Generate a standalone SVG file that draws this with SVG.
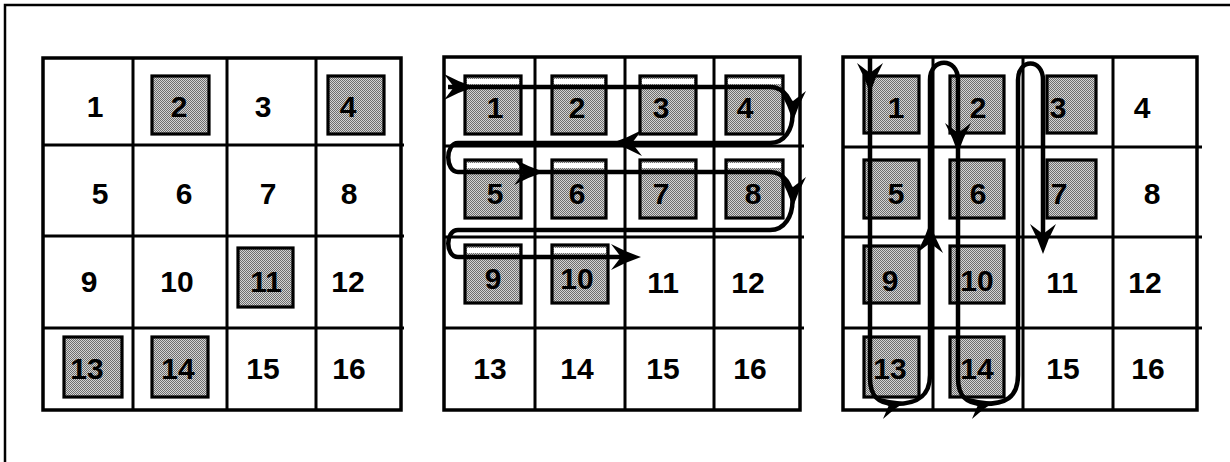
<svg xmlns="http://www.w3.org/2000/svg" xmlns:xlink="http://www.w3.org/1999/xlink" width="1230" height="462" viewBox="0 0 1230 462">
<style>
.frame{stroke:#000;stroke-width:2.5;fill:none}
.gl{stroke:#000;stroke-width:3;fill:none}
.go{stroke:#000;stroke-width:3.5;fill:none}
.box{fill:url(#dots);stroke:#000;stroke-width:3.2}
.halo{fill:#fff}
.n{font-family:"Liberation Sans",Arial,Helvetica,sans-serif;font-weight:bold;font-size:30px;text-anchor:middle;fill:#000}
.path{fill:none;stroke:#000;stroke-width:4.5;stroke-linejoin:round}
.ah{fill:#000}
</style>
<defs>
<pattern id="dots" width="2" height="2" patternUnits="userSpaceOnUse">
<rect width="2" height="2" fill="#d4d4d4"/>
<rect width="1" height="1" fill="#6e6e6e"/>
<rect x="1" y="1" width="1" height="1" fill="#6e6e6e"/>
</pattern>
<path id="arrowhead" d="M0,0 Q-15,-5 -30,-13 L-20,0 L-30,13 Q-15,5 0,0Z"/>
</defs>
<rect width="1230" height="462" fill="#fff"/>
<g id="frame">
<path class="frame" d="M5,462 V5 H1230"/>
</g>

<!-- Grid 1 -->
<g id="grid1-lines">
<rect class="go" x="43" y="58" width="358" height="352"/>
<path class="gl" d="M133,58V410 M227,58V410 M316,58V410 M43,145H404 M43,236H404 M43,328H404"/>
</g>
<g id="g1-c1"><text class="n" x="95" y="117">1</text></g>
<g id="g1-c2"><rect class="box" x="152" y="76" width="57" height="58"/><text class="n" x="179" y="117">2</text></g>
<g id="g1-c3"><text class="n" x="263" y="117">3</text></g>
<g id="g1-c4"><rect class="box" x="328" y="76" width="56" height="58"/><text class="n" x="348" y="117">4</text></g>
<g id="g1-c5"><text class="n" x="100" y="204">5</text></g>
<g id="g1-c6"><text class="n" x="184" y="204">6</text></g>
<g id="g1-c7"><text class="n" x="268" y="204">7</text></g>
<g id="g1-c8"><text class="n" x="349" y="204">8</text></g>
<g id="g1-c9"><text class="n" x="89" y="292">9</text></g>
<g id="g1-c10"><text class="n" x="177" y="292">10</text></g>
<g id="g1-c11"><rect class="box" x="238" y="248" width="55" height="59"/><text class="n" x="266" y="292">11</text></g>
<g id="g1-c12"><text class="n" x="348" y="292">12</text></g>
<g id="g1-c13"><rect class="box" x="64" y="337" width="58" height="60"/><text class="n" x="87" y="379">13</text></g>
<g id="g1-c14"><rect class="box" x="152" y="337" width="56" height="60"/><text class="n" x="178" y="379">14</text></g>
<g id="g1-c15"><text class="n" x="263" y="379">15</text></g>
<g id="g1-c16"><text class="n" x="349" y="379">16</text></g>

<!-- Grid 2 -->
<g id="grid2-lines">
<rect class="go" x="444" y="57" width="356" height="353"/>
<path class="gl" d="M535,57V410 M625,57V410 M714,57V410 M444,146H804 M444,237H804 M444,328H804"/>
</g>
<g id="g2-c1"><rect class="box" x="465" y="76" width="56" height="58"/><rect class="halo" x="467" y="79" width="52" height="5"/><text class="n" x="495" y="118">1</text></g>
<g id="g2-c2"><rect class="box" x="552" y="76" width="54" height="58"/><rect class="halo" x="554" y="79" width="50" height="5"/><text class="n" x="577" y="118">2</text></g>
<g id="g2-c3"><rect class="box" x="640" y="76" width="56" height="58"/><rect class="halo" x="642" y="79" width="52" height="5"/><text class="n" x="661" y="118">3</text></g>
<g id="g2-c4"><rect class="box" x="726" y="76" width="57" height="58"/><rect class="halo" x="728" y="79" width="53" height="5"/><text class="n" x="745" y="118">4</text></g>
<g id="g2-c5"><rect class="box" x="465" y="160" width="56" height="58"/><rect class="halo" x="467" y="163" width="52" height="5"/><text class="n" x="495" y="204">5</text></g>
<g id="g2-c6"><rect class="box" x="552" y="160" width="54" height="58"/><rect class="halo" x="554" y="163" width="50" height="5"/><text class="n" x="577" y="204">6</text></g>
<g id="g2-c7"><rect class="box" x="640" y="160" width="56" height="58"/><rect class="halo" x="642" y="163" width="52" height="5"/><text class="n" x="661" y="204">7</text></g>
<g id="g2-c8"><rect class="box" x="726" y="160" width="57" height="58"/><rect class="halo" x="728" y="163" width="53" height="5"/><text class="n" x="753" y="204">8</text></g>
<g id="g2-c9"><rect class="box" x="465" y="245" width="56" height="58"/><rect class="halo" x="467" y="248" width="52" height="5"/><text class="n" x="493" y="289">9</text></g>
<g id="g2-c10"><rect class="box" x="552" y="245" width="56" height="58"/><rect class="halo" x="554" y="248" width="52" height="5"/><text class="n" x="577" y="289">10</text></g>
<g id="g2-c11"><text class="n" x="663" y="293">11</text></g>
<g id="g2-c12"><text class="n" x="748" y="293">12</text></g>
<g id="g2-c13"><text class="n" x="490" y="379">13</text></g>
<g id="g2-c14"><text class="n" x="577" y="379">14</text></g>
<g id="g2-c15"><text class="n" x="663" y="379">15</text></g>
<g id="g2-c16"><text class="n" x="750" y="379">16</text></g>

<!-- Grid 3 -->
<g id="grid3-lines">
<rect class="go" x="843" y="57" width="354" height="353"/>
<path class="gl" d="M933,57V410 M1023,57V410 M1113,57V410 M843,147H1202 M843,237H1202 M843,328H1202"/>
</g>
<g id="g3-c1"><rect class="box" x="864" y="76" width="55" height="57"/><text class="n" x="896" y="118">1</text></g>
<g id="g3-c2"><rect class="box" x="950" y="76" width="54" height="57"/><text class="n" x="978" y="118">2</text></g>
<g id="g3-c3"><rect class="box" x="1047" y="76" width="49" height="57"/><text class="n" x="1058" y="118">3</text></g>
<g id="g3-c4"><text class="n" x="1142" y="118">4</text></g>
<g id="g3-c5"><rect class="box" x="864" y="160" width="55" height="58"/><text class="n" x="896" y="204">5</text></g>
<g id="g3-c6"><rect class="box" x="950" y="160" width="54" height="58"/><text class="n" x="978" y="204">6</text></g>
<g id="g3-c7"><rect class="box" x="1047" y="160" width="49" height="58"/><text class="n" x="1059" y="204">7</text></g>
<g id="g3-c8"><text class="n" x="1152" y="204">8</text></g>
<g id="g3-c9"><rect class="box" x="864" y="246" width="55" height="57"/><text class="n" x="890" y="291">9</text></g>
<g id="g3-c10"><rect class="box" x="950" y="246" width="54" height="57"/><text class="n" x="977" y="291">10</text></g>
<g id="g3-c11"><text class="n" x="1062" y="293">11</text></g>
<g id="g3-c12"><text class="n" x="1145" y="293">12</text></g>
<g id="g3-c13"><rect class="box" x="864" y="337" width="55" height="60"/><text class="n" x="890" y="379">13</text></g>
<g id="g3-c14"><rect class="box" x="950" y="337" width="54" height="60"/><text class="n" x="977" y="379">14</text></g>
<g id="g3-c15"><text class="n" x="1063" y="379">15</text></g>
<g id="g3-c16"><text class="n" x="1148" y="379">16</text></g>

<!-- Connectors -->
<g id="connectors">
<path class="path" d="M448,87 H770 C800,87 800,143 770,143 H458 C445,143 445,172 458,172 H770 C800,172 800,230 770,230 H458 C445,230 445,257 458,257 H630"/>
<use href="#arrowhead" class="ah" transform="translate(474,87)"/>
<use href="#arrowhead" class="ah" transform="translate(793,121) rotate(90)"/>
<use href="#arrowhead" class="ah" transform="translate(612,143) rotate(180)"/>
<use href="#arrowhead" class="ah" transform="translate(544,172)"/>
<use href="#arrowhead" class="ah" transform="translate(793,207) rotate(90)"/>
<use href="#arrowhead" class="ah" transform="translate(641,257)"/>

<path class="path" d="M870,57 V378 C870,398 880,404 895,404 C915,404 930,398 930,375 V80 C930,57 958,57 958,80 V378 C958,398 968,404 983,404 C1005,404 1018,398 1018,375 V80 C1018,58 1043,58 1043,80 V244"/>
<use href="#arrowhead" class="ah" transform="translate(870,93) rotate(90)"/>
<use href="#arrowhead" class="ah" transform="translate(905,402) rotate(-14) scale(0.85)"/>
<use href="#arrowhead" class="ah" transform="translate(930,223) rotate(-90)"/>
<use href="#arrowhead" class="ah" transform="translate(958,153) rotate(90)"/>
<use href="#arrowhead" class="ah" transform="translate(994,402) rotate(-14) scale(0.85)"/>
<use href="#arrowhead" class="ah" transform="translate(1043,254) rotate(90)"/>
</g>
</svg>
